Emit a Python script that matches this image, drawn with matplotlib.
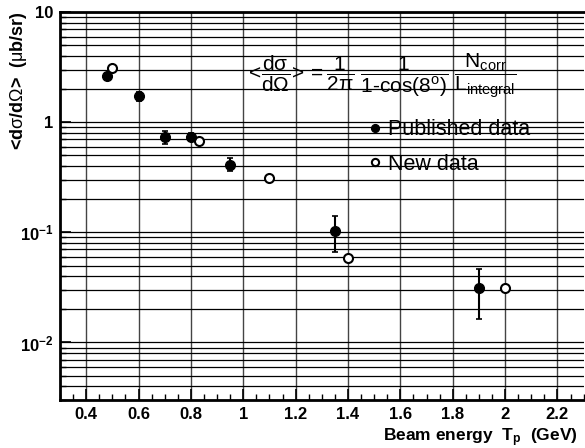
import numpy as np
import matplotlib
matplotlib.use("Agg")
import matplotlib.pyplot as plt
from matplotlib.ticker import MultipleLocator, LogLocator, NullFormatter

plt.rcParams['font.family'] = ['Liberation Sans', 'DejaVu Sans']
plt.rcParams['mathtext.fontset'] = 'custom'
plt.rcParams['mathtext.rm'] = 'Liberation Sans'
plt.rcParams['mathtext.it'] = 'Liberation Sans'
plt.rcParams['mathtext.bf'] = 'Liberation Sans:bold'

# published data (filled)
pub_T = [0.48, 0.60, 0.70, 0.80, 0.95, 1.35, 1.90]
pub_xs = [2.62, 1.72, 0.73, 0.73, 0.41, 0.102, 0.031]
pub_lo = [2.45, 1.55, 0.63, 0.67, 0.36, 0.066, 0.0165]
pub_hi = [2.80, 1.90, 0.83, 0.79, 0.47, 0.140, 0.046]

# new data (open)
new_T = [0.50, 0.83, 1.10, 1.40, 2.00]
new_xs = [3.1, 0.67, 0.31, 0.058, 0.031]

fig = plt.figure(figsize=(5.85, 4.48), dpi=100)
ax = fig.add_axes([0.1026, 0.107, 0.895, 0.866])

yerr = [np.array(pub_xs) - np.array(pub_lo), np.array(pub_hi) - np.array(pub_xs)]
pub = ax.errorbar(pub_T, pub_xs, yerr=yerr, fmt='o', color='black', ms=7, capsize=2,
                  elinewidth=1.5, capthick=1.2, zorder=5)
new, = ax.plot(new_T, new_xs, 'o', mfc='white', mec='black', mew=1.5, ms=6.5, zorder=5)

ax.set_yscale('log')
ax.set_xlim(0.30, 2.30)
ax.set_ylim(0.003, 10)

ax.xaxis.set_major_locator(MultipleLocator(0.2))
ax.xaxis.set_minor_locator(MultipleLocator(0.05))
ax.yaxis.set_minor_locator(LogLocator(base=10, subs=np.arange(2, 10), numticks=20))
ax.yaxis.set_minor_formatter(NullFormatter())
ax.set_yticks([0.01, 0.1, 1, 10])
ax.set_yticklabels([r'$\mathbf{10^{-2}}$', r'$\mathbf{10^{-1}}$', '1', '10'])
ax.set_xticks([0.4, 0.6, 0.8, 1.0, 1.2, 1.4, 1.6, 1.8, 2.0, 2.2])
ax.set_xticklabels(['0.4', '0.6', '0.8', '1', '1.2', '1.4', '1.6', '1.8', '2', '2.2'])

for lab in ax.get_xticklabels() + ax.get_yticklabels():
    lab.set_fontweight('bold')
    lab.set_fontsize(12)

ax.grid(True, which='major', axis='x', color='#444444', lw=1.0)
ax.grid(True, which='both', axis='y', color='black', lw=0.9)

ax.tick_params(axis='both', which='major', direction='in', length=8, width=1.2, top=False, right=False)
ax.tick_params(axis='both', which='minor', direction='in', length=4, width=1, top=False, right=False)
ax.tick_params(axis='x', which='major', pad=5)
ax.tick_params(axis='y', which='major', pad=5)

for s in ['left', 'bottom', 'top']:
    ax.spines[s].set_linewidth(2)
ax.spines['right'].set_visible(False)

fig.text(0.032, 0.975, r'<d$\sigma$/d$\Omega$>  ($\mu$b/sr)', fontsize=13, fontweight='bold',
         rotation=90, ha='center', va='top')
fig.text(0.988, 0.016, r'Beam energy  T$_\mathbf{p}$  (GeV)', fontsize=12.5, fontweight='bold',
         ha='right', va='baseline')

ax.text(0.353, 0.835,
        r'$<\!\dfrac{d\sigma}{d\Omega}\!> = \dfrac{1}{2\pi}\ \dfrac{1}{1\text{-}\cos(8^o)}\ \dfrac{N_{corr}}{L_{integral}}$',
        transform=ax.transAxes, fontsize=15, ha='left', va='center')

ax.legend([pub[0], new], ['Published data', 'New data'], loc='upper left',
          bbox_to_anchor=(0.589, 0.724), frameon=False, fontsize=15.5, markerscale=0.8,
          handlelength=0.6, handletextpad=0.3, labelspacing=0.62, borderpad=0, borderaxespad=0)

fig.savefig('out.png', dpi=100)
